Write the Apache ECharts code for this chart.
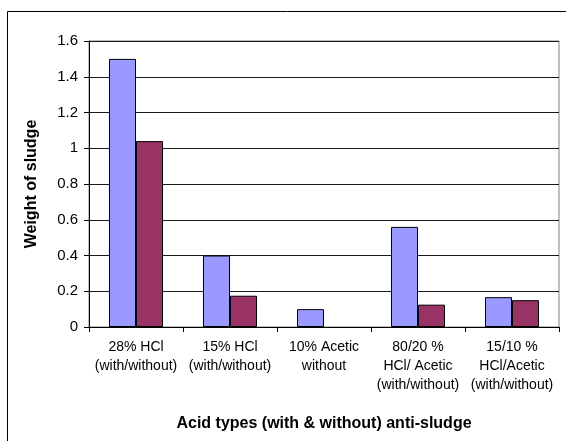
<!DOCTYPE html>
<html>
<head>
<meta charset="utf-8">
<script src="https://cdn.jsdelivr.net/npm/echarts@6/dist/echarts.min.js"></script>
<style>
html,body{margin:0;padding:0;background:#fff;}
#c{width:566px;height:441px;}
</style>
</head>
<body>
<div id="c"></div>
<script>
var categories = [
  "28% HCl\n(with/without)",
  "15% HCl\n(with/without)",
  "10% Acetic\nwithout",
  "80/20 %\nHCl/ Acetic\n(with/without)",
  "15/10 %\nHCl/Acetic\n(with/without)"
];
var withAntiSludge = [1.5, 0.4, 0.1, 0.56, 0.167];
var withoutAntiSludge = [1.04, 0.175, null, 0.125, 0.15];
var yTicks = [0, 0.2, 0.4, 0.6, 0.8, 1, 1.2, 1.4, 1.6];

var chart = echarts.init(document.getElementById('c'), null, {renderer: 'canvas'});
var font = 'Arial, "Liberation Sans", sans-serif';
chart.setOption({
  animation: false,
  textStyle: {fontFamily: font},
  graphic: [{
    type: 'rect',
    shape: {x: 7.5, y: 11.5, width: 570, height: 440},
    style: {fill: 'none', stroke: '#000', lineWidth: 1},
    silent: true
  }],
  grid: {
    left: 89, right: 7, top: 41, bottom: 114,
    show: true, borderColor: '#808080', borderWidth: 1, backgroundColor: 'transparent'
  },
  xAxis: {
    type: 'category',
    data: categories,
    name: 'Acid types (with & without) anti-sludge',
    nameLocation: 'middle',
    nameGap: 89,
    nameTextStyle: {fontFamily: font, fontSize: 16, fontWeight: 'bold', color: '#000'},
    axisLine: {lineStyle: {color: '#000', width: 1}},
    axisTick: {show: true, inside: false, length: 5, alignWithLabel: false, lineStyle: {color: '#000'}},
    axisLabel: {fontFamily: font, fontSize: 14, color: '#000', lineHeight: 19, margin: 11, interval: 0},
    splitLine: {show: false}
  },
  yAxis: {
    type: 'value',
    min: 0, max: 1.6, interval: 0.2,
    name: 'Weight of sludge',
    nameLocation: 'middle',
    nameGap: 49,
    nameTextStyle: {fontFamily: font, fontSize: 16, fontWeight: 'bold', color: '#000'},
    axisLine: {show: true, lineStyle: {color: '#000', width: 1}},
    axisTick: {show: true, length: 5, lineStyle: {color: '#000'}},
    axisLabel: {
      fontFamily: font, fontSize: 15, color: '#000', margin: 11,
      formatter: function (v) {
        for (var i = 0; i < yTicks.length; i++) {
          if (Math.abs(yTicks[i] - v) < 1e-9) return String(yTicks[i]);
        }
        return '';
      }
    },
    splitLine: {show: true, lineStyle: {color: '#1a1a1a', width: 1}}
  },
  series: [{
    name: 'with',
    type: 'bar',
    data: withAntiSludge,
    barWidth: 27,
    barGap: '0%',
    itemStyle: {color: '#9999FF', borderColor: '#000', borderWidth: 1}
  }, {
    name: 'without',
    type: 'bar',
    data: withoutAntiSludge,
    barWidth: 27,
    barGap: '0%',
    itemStyle: {color: '#993366', borderColor: '#000', borderWidth: 1}
  }]
});
</script>
</body>
</html>
